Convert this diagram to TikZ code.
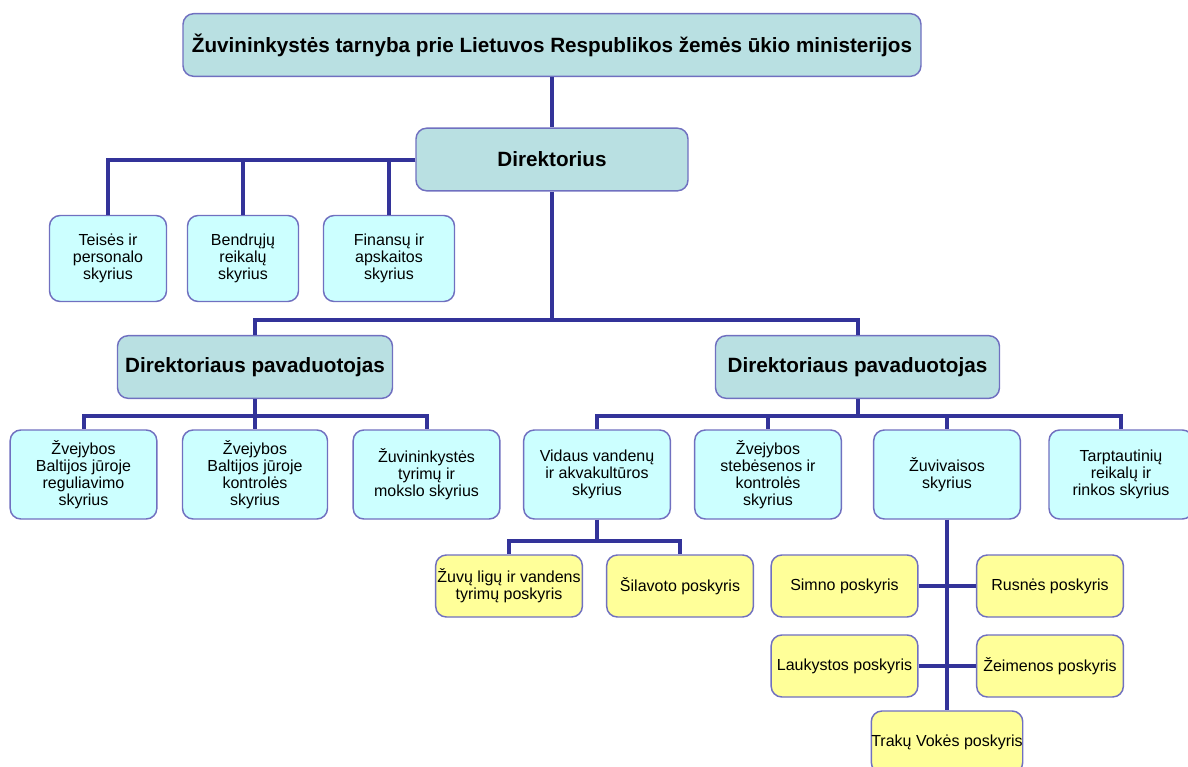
\documentclass[tikz,border=0pt]{standalone}
\usepackage{fontspec}
\setmainfont{Liberation Sans}
\definecolor{headfill}{RGB}{185,224,226}
\definecolor{unitfill}{RGB}{204,255,255}
\definecolor{subfill}{RGB}{255,255,153}
\definecolor{boxline}{RGB}{112,112,192}
\definecolor{linkblue}{RGB}{51,51,153}
\begin{document}
\begin{tikzpicture}[x=0.75pt,y=-0.75pt,
	box/.style={draw=boxline, line width=1.1pt, rounded corners=8pt, inner sep=0pt, align=center},
	head/.style={box, fill=headfill, minimum height=47pt, font=\fontsize{15.5}{18}\selectfont\bfseries},
	unit/.style={box, fill=unitfill, minimum width=110pt, minimum height=66.75pt, font=\fontsize{12}{12.8}\selectfont},
	sub/.style={box, fill=subfill, minimum width=110pt, minimum height=46.5pt, font=\fontsize{12}{12.8}\selectfont},
	link/.style={draw=linkblue, line width=3pt}]
	\useasboundingbox (0,0) rectangle (1188,767);
	\node (top) at ( 552,  45)	[head, minimum width=553.5pt]	{Žuvininkystės tarnyba prie Lietuvos Respublikos žemės ūkio ministerijos};
	\node (dir) at ( 552, 159.5)	[head, minimum width=204pt]	{Direktorius};
	\node (teis) at ( 108, 258.5)	[unit, minimum width=87.75pt, minimum height=64.5pt]	{Teisės ir\\personalo\\skyrius};
	\node (bendr) at ( 243, 258.5)	[unit, minimum width=83.25pt, minimum height=64.5pt]	{Bendrųjų\\reikalų\\skyrius};
	\node (fin) at ( 389, 258.5)	[unit, minimum width=98.25pt, minimum height=64.5pt]	{Finansų ir\\apskaitos\\skyrius};
	\node (depL) at ( 255, 367)	[head, minimum width=206.25pt]	{Direktoriaus pavaduotojas};
	\node (depR) at ( 857.5, 367)	[head, minimum width=213pt]	{Direktoriaus pavaduotojas};
	\node (reg) at ( 83.5, 474.5)	[unit]	{Žvejybos\\Baltijos jūroje\\reguliavimo\\skyrius};
	\node (kontr) at ( 255, 474.5)	[unit, minimum width=108.75pt]	{Žvejybos\\Baltijos jūroje\\kontrolės\\skyrius};
	\node (tyr) at ( 426.5, 474.5)	[unit]	{Žuvininkystės\\tyrimų ir\\mokslo skyrius};
	\node (vid) at ( 597, 474.5)	[unit]	{Vidaus vandenų\\ir akvakultūros\\skyrius};
	\node (steb) at ( 768, 474.5)	[unit]	{Žvejybos\\stebėsenos ir\\kontrolės\\skyrius};
	\node (zuvv) at ( 947, 474.5)	[unit]	{Žuvivaisos\\skyrius};
	\node (tarpt) at (1121, 474.5)	[unit, minimum width=108pt]	{Tarptautinių\\reikalų ir\\rinkos skyrius};
	\node (lig) at ( 509, 586)	[sub]	{Žuvų ligų ir vandens\\tyrimų poskyris};
	\node (silav) at ( 680, 586)	[sub]	{Šilavoto poskyris};
	\node (simno) at ( 844.5, 586)	[sub]	{Simno poskyris};
	\node (rusne) at (1050, 586)	[sub]	{Rusnės poskyris};
	\node (lauk) at ( 844.5, 666)	[sub]	{Laukystos poskyris};
	\node (zeim) at (1050, 666)	[sub]	{Žeimenos poskyris};
	\node (trak) at ( 947, 742)	[sub]	{Trakų Vokės poskyris};
	\coordinate (dbus) at ( 552, 320);
	\coordinate (lbus) at ( 255, 416);
	\coordinate (rbus) at ( 857.5, 416);
	\coordinate (vbus) at ( 597, 541);
	\draw[link] (top) -- (dir);
	\draw[link] (dir.west) -| (teis);
	\draw[link] (dir.west) -| (bendr);
	\draw[link] (dir.west) -| (fin);
	\draw[link] (dir) -- (dbus) -| (depL);
	\draw[link] (dbus) -| (depR);
	\draw[link] (depL) -- (lbus) -| (reg);
	\draw[link] (lbus) -- (kontr);
	\draw[link] (lbus) -| (tyr);
	\draw[link] (depR) -- (rbus) -| (vid);
	\draw[link] (rbus) -| (steb);
	\draw[link] (rbus) -| (zuvv);
	\draw[link] (rbus) -| (tarpt);
	\draw[link] (vid) -- (vbus) -| (lig);
	\draw[link] (vbus) -| (silav);
	\draw[link] (zuvv) -- (trak);
	\draw[link] (simno) -- (rusne);
	\draw[link] (lauk) -- (zeim);
\end{tikzpicture}
\end{document}
